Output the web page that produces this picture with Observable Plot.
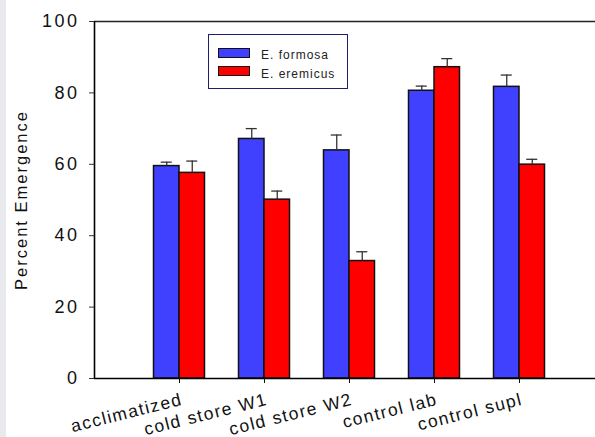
<!DOCTYPE html>
<html><head><meta charset="utf-8">
<script src="https://cdn.jsdelivr.net/npm/d3@7"></script>
<script src="https://cdn.jsdelivr.net/npm/@observablehq/plot@0.6"></script>
<style>
html,body{margin:0;padding:0;background:#fff;overflow:hidden;}
#wrap{position:relative;width:595px;height:437px;overflow:hidden;font-family:Arial,"Liberation Sans",sans-serif;}
#chart svg{max-width:none !important;display:block;}
#stripe{position:absolute;left:0;top:0;width:6px;height:437px;background:#e8eaed;}
#legend{position:absolute;left:208px;top:34px;width:138px;height:53px;border:1.3px solid #1c1c70;background:#fff;}
.sw{position:absolute;left:9px;width:30px;height:8px;border:1.5px solid #111;}
.lb{position:absolute;left:52px;font-size:12px;line-height:12px;letter-spacing:1px;color:#222;white-space:nowrap;}
</style></head><body>
<div id="wrap"><div id="chart"></div><div id="stripe"></div><div id="legend"></div></div>
<script>
const categories = ["acclimatized", "cold store W1", "cold store W2", "control lab", "control supl"];
const seriesNames = ["E. formosa", "E. eremicus"];
const seriesColors = ["#4040ff", "#ff0000"];
const formosa = [59.5, 67.1, 63.9, 80.6, 81.7];
const formosaErr = [1.1, 2.9, 4.3, 1.3, 3.3];
const eremicus = [57.6, 50.1, 32.9, 87.2, 59.9];
const eremicusErr = [3.3, 2.4, 2.6, 2.4, 1.5];
const yTicks = [0, 20, 40, 60, 80, 100];

const barW = 0.3;
const capHalf = 0.065;
const rows = [];
categories.forEach((c, i) => {
  const pos = i + 1;
  rows.push({cat: c, series: seriesNames[0], value: formosa[i], err: formosaErr[i], x1: pos - barW, x2: pos});
  rows.push({cat: c, series: seriesNames[1], value: eremicus[i], err: eremicusErr[i], x1: pos, x2: pos + barW});
});
const cx = d => (d.x1 + d.x2) / 2;

const chart = Plot.plot({
  width: 604, height: 437,
  marginLeft: 94, marginRight: 0, marginTop: 21, marginBottom: 59,
  style: {fontFamily: "Arial, 'Liberation Sans', sans-serif", background: "transparent", color: "#111", maxWidth: "none", overflow: "visible"},
  x: {domain: [0, categories.length + 1], label: null},
  y: {domain: [0, 100], label: null},
  color: {domain: seriesNames, range: seriesColors},
  marks: [
    Plot.rectY(rows, {x1: "x1", x2: "x2", y1: 0, y2: "value", fill: "series", stroke: "#111", strokeWidth: 1.5}),
    Plot.ruleX(rows, {x: cx, y1: "value", y2: d => d.value + d.err, stroke: "#333", strokeWidth: 1.3}),
    Plot.ruleY(rows, {y: d => d.value + d.err, x1: d => cx(d) - capHalf, x2: d => cx(d) + capHalf, stroke: "#333", strokeWidth: 1.3}),
    Plot.ruleY([100], {stroke: "#222", strokeWidth: 1.3}),
    Plot.ruleY([0], {stroke: "#000", strokeWidth: 1.6}),
    Plot.ruleX([0], {stroke: "#000", strokeWidth: 1.6}),
    Plot.axisY({ticks: yTicks, tickSize: 5, tickPadding: 10, fontSize: 18, label: null, stroke: "#333"}),
    Plot.axisX({ticks: categories.map((c, i) => i + 1), tickSize: 5, tickFormat: () => "", label: null, stroke: "#111"}),
    Plot.text(categories, {x: (d, i) => i + 1, frameAnchor: "bottom", dy: 14, dx: 1, rotate: -14, textAnchor: "end", lineAnchor: "top", fontSize: 17.5, fill: "#111"}),
    Plot.text(["Percent Emergence"], {frameAnchor: "left", dx: -73, rotate: -90, textAnchor: "middle", lineAnchor: "middle", fontSize: 16.5, fill: "#111"})
  ]
});
document.getElementById("chart").appendChild(chart);

d3.select(chart).selectAll("text").each(function() {
  const t = this.textContent;
  if (categories.includes(t)) this.setAttribute("letter-spacing", "1.5");
  else if (t === "Percent Emergence") this.setAttribute("letter-spacing", "2");
  else if (yTicks.map(String).includes(t)) this.setAttribute("letter-spacing", "2.5");
});

const legend = document.getElementById("legend");
const swTops = [13, 30.5];
const lbTops = [14, 33];
seriesNames.forEach((name, i) => {
  const sw = document.createElement("div");
  sw.className = "sw";
  sw.style.top = swTops[i] + "px";
  sw.style.background = seriesColors[i];
  legend.appendChild(sw);
  const lb = document.createElement("div");
  lb.className = "lb";
  lb.style.top = lbTops[i] + "px";
  lb.textContent = name;
  legend.appendChild(lb);
});
</script>
</body></html>
